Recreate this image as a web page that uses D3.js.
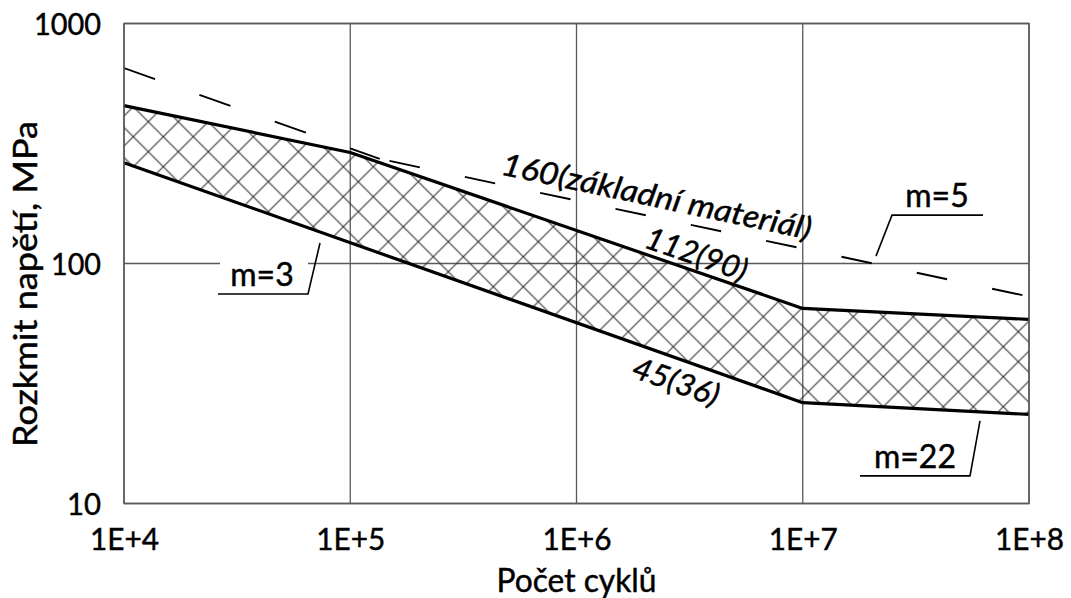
<!DOCTYPE html>
<html>
<head>
<meta charset="utf-8">
<script src="https://cdn.jsdelivr.net/npm/d3@7"></script>
<style>
  html, body { margin: 0; padding: 0; background: #ffffff; }
  svg { display: block; }
  text { font-family: Lato, "Open Sans", sans-serif; fill: #000; stroke: #000; stroke-width: 0.45px; }
</style>
</head>
<body>
<svg id="chart" width="1071" height="598"></svg>
<script>
// Fatigue (S-N) curves on log-log axes: stress range vs. number of cycles.

const cycleTicks = [1e4, 1e5, 1e6, 1e7, 1e8];
const cycleTickLabels = ["1E+4", "1E+5", "1E+6", "1E+7", "1E+8"];
const stressTicks = [10, 100, 1000];
const stressTickLabels = ["10", "100", "1000"];

// Upper boundary of the hatched band, detail category 112(90)
const upperCycles = [1e4, 1e5, 1e7, 1e8];
const upperStress = [455, 290, 65, 58.5];

// Lower boundary of the hatched band, detail category 45(36)
const lowerCycles = [1e4, 1e7, 1e8];
const lowerStress = [263, 26.3, 23.5];

// Base material, category 160 (dashed)
const baseCycles = [1e4, 1.35e5, 1e8];
const baseStress = [652, 273, 72.8];

const xTitle = "Počet cyklů";
const yTitle = "Rozkmit napětí, MPa";

const svg = d3.select("#chart");
const margin = { left: 124, right: 1029, top: 23.5, bottom: 503.5 };

const x = d3.scaleLog().domain([1e4, 1e8]).range([margin.left, margin.right]);
const y = d3.scaleLog().domain([10, 1000]).range([margin.bottom, margin.top]);

const toPoints = (cs, ss) => cs.map((c, i) => [c, ss[i]]);
const upper = toPoints(upperCycles, upperStress);
const lower = toPoints(lowerCycles, lowerStress);
const base = toPoints(baseCycles, baseStress);

const line = d3.line().x(d => x(d[0])).y(d => y(d[1]));

// stress on a polyline at a given cycle count (linear in log-log space)
function stressAt(pts, n) {
  for (let i = 0; i < pts.length - 1; i++) {
    const [n0, s0] = pts[i], [n1, s1] = pts[i + 1];
    if (n >= n0 && n <= n1) {
      const t = Math.log(n / n0) / Math.log(n1 / n0);
      return Math.exp(Math.log(s0) + t * Math.log(s1 / s0));
    }
  }
  return pts[pts.length - 1][1];
}
function angleAt(pts, n) {
  const a = x.invert(x(n) - 1), b = x.invert(x(n) + 1);
  const dy = y(stressAt(pts, b)) - y(stressAt(pts, a));
  return Math.atan2(dy, 2) * 180 / Math.PI;
}

// cross-hatch fill
const defs = svg.append("defs");
const hatch = defs.append("pattern")
  .attr("id", "crosshatch")
  .attr("patternUnits", "userSpaceOnUse")
  .attr("width", 30).attr("height", 30)
  .attr("x", 13.3).attr("y", 16.7);
hatch.append("path")
  .attr("d", "M0,0L30,30M30,0L0,30M-15,15L15,-15M15,45L45,15M-15,15L15,45M15,-15L45,15")
  .attr("stroke", "#333").attr("stroke-width", 1.1).attr("fill", "none");

const clip = defs.append("clipPath").attr("id", "plotclip");
clip.append("rect")
  .attr("x", margin.left).attr("y", margin.top)
  .attr("width", margin.right - margin.left).attr("height", margin.bottom - margin.top);

// gridlines
const grid = svg.append("g").attr("stroke", "#595959").attr("stroke-width", 1.3);
grid.selectAll("line.v").data(cycleTicks).join("line")
  .attr("x1", d => x(d)).attr("x2", d => x(d))
  .attr("y1", margin.top).attr("y2", margin.bottom);
grid.selectAll("line.h").data(stressTicks).join("line")
  .attr("x1", margin.left).attr("x2", margin.right)
  .attr("y1", d => y(d)).attr("y2", d => y(d));

// hatched band between the two curves
const bandPath = line(upper) + "L" + line(lower.slice().reverse()).slice(1) + "Z";
svg.append("path")
  .attr("d", bandPath)
  .attr("fill", "url(#crosshatch)")
  .attr("stroke", "none");

// base material dashed curve, each segment starting its own dash pattern
const dashStyles = [
  { dash: "33,47", offset: 0 },
  { dash: "31,46", offset: 67 }
];
d3.pairs(base).forEach((seg, i) => {
  svg.append("path")
    .attr("d", line(seg))
    .attr("fill", "none")
    .attr("stroke", "#000")
    .attr("stroke-width", 1.9)
    .attr("stroke-dasharray", dashStyles[i].dash)
    .attr("stroke-dashoffset", dashStyles[i].offset)
    .attr("clip-path", "url(#plotclip)");
});

// band boundaries
[upper, lower].forEach(pts => {
  svg.append("path")
    .attr("d", line(pts))
    .attr("fill", "none")
    .attr("stroke", "#000")
    .attr("stroke-width", 3.2)
    .attr("stroke-linejoin", "round");
});

// axis tick labels
const xAxis = d3.axisBottom(x).tickValues(cycleTicks)
  .tickFormat((d, i) => cycleTickLabels[i]).tickSize(0).tickPadding(0);
const gx = svg.append("g").attr("transform", `translate(0,${margin.bottom})`).call(xAxis);
gx.select(".domain").remove();
gx.selectAll("text")
  .attr("dy", null).attr("y", 46)
  .attr("textLength", 69).attr("lengthAdjust", "spacingAndGlyphs")
  .style("font-family", "Lato").style("font-size", "31px").attr("fill", "#000");

const yLabelWidths = { "10": 34, "100": 50, "1000": 67 };
const yAxis = d3.axisLeft(y).tickValues(stressTicks)
  .tickFormat((d, i) => stressTickLabels[i]).tickSize(0).tickPadding(23);
const gy = svg.append("g").attr("transform", `translate(${margin.left},0)`).call(yAxis);
gy.select(".domain").remove();
gy.selectAll("text")
  .attr("dy", "0.36em")
  .attr("textLength", function () { return yLabelWidths[this.textContent]; })
  .attr("lengthAdjust", "spacingAndGlyphs")
  .style("font-family", "Lato").style("font-size", "31px").attr("fill", "#000");

// axis titles
svg.append("text")
  .attr("x", x(1e6)).attr("y", 592)
  .attr("text-anchor", "middle")
  .style("font-size", "32px")
  .attr("textLength", 160).attr("lengthAdjust", "spacingAndGlyphs")
  .text(xTitle);
svg.append("text")
  .attr("transform", `translate(37,${284}) rotate(-90)`)
  .attr("text-anchor", "middle")
  .style("font-size", "32px")
  .attr("textLength", 326).attr("lengthAdjust", "spacingAndGlyphs")
  .text(yTitle);

// plot frame
svg.append("rect")
  .attr("x", margin.left).attr("y", margin.top)
  .attr("width", margin.right - margin.left).attr("height", margin.bottom - margin.top)
  .attr("fill", "none").attr("stroke", "#595959").attr("stroke-width", 1.5);

// category labels written along the curves
const curveLabels = [
  { text: "160(základní materiál)", pts: base, at: x.invert(498), offset: -10, len: 316 },
  { text: "112(90)", pts: upper, at: x.invert(641), offset: -6, len: 106 },
  { text: "45(36)", pts: lower, at: x.invert(641), offset: 33, len: 90 }
];
curveLabels.forEach(l => {
  const px = x(l.at), py = y(stressAt(l.pts, l.at));
  const ang = angleAt(l.pts, l.at);
  const r = ang * Math.PI / 180;
  const ox = px - Math.sin(r) * l.offset, oy = py + Math.cos(r) * l.offset;
  svg.append("text")
    .attr("transform", `translate(${ox},${oy}) rotate(${ang})`)
    .style("font-size", "31px").style("font-style", "italic")
    .attr("textLength", l.len).attr("lengthAdjust", "spacingAndGlyphs")
    .text(l.text);
});

// slope labels with leader lines
const slopeLabels = [
  { text: "m=3", pts: lower, tip: x.invert(320), gap: 11, elbow: [-12, 51], end: -90, textDx: -46 },
  { text: "m=5", pts: base, tip: x.invert(876), gap: -8, elbow: [16, -41], end: 91, textDx: 45 },
  { text: "m=22", pts: lower, tip: x.invert(980), gap: 9, elbow: [-10, 55], end: -110, textDx: -55 }
];
slopeLabels.forEach(l => {
  const tx = x(l.tip), ty = y(stressAt(l.pts, l.tip)) + l.gap;
  const ex = tx + l.elbow[0], ey = ty + l.elbow[1];
  const endX = ex + l.end;
  const cx = ex + l.textDx;
  svg.append("rect")
    .attr("x", Math.min(ex, endX) + 2).attr("y", ey - 36)
    .attr("width", Math.abs(l.end) - 2).attr("height", 33)
    .attr("fill", "#fff");
  svg.append("path")
    .attr("d", d3.line()([[tx, ty], [ex, ey], [endX, ey]]))
    .attr("fill", "none").attr("stroke", "#000").attr("stroke-width", 1.6);
  svg.append("text")
    .attr("x", cx).attr("y", ey - 8)
    .attr("text-anchor", "middle")
    .style("font-size", "32px")
    .text(l.text);
});
</script>
</body>
</html>
